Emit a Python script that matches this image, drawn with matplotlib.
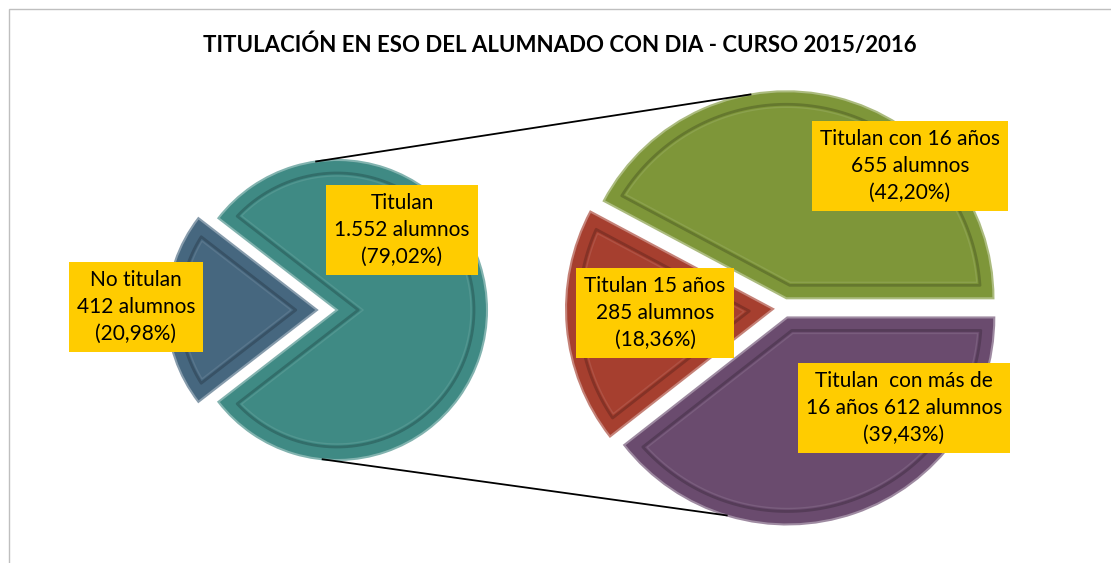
import numpy as np
import matplotlib
matplotlib.use("Agg")
import matplotlib.pyplot as plt
from matplotlib.patches import Rectangle, Polygon

W, H = 1111, 563

# left pie: all students
main_values = [412, 1552]
main_labels = ["No titulan\n412 alumnos\n(20,98%)",
               "Titulan\n1.552 alumnos\n(79,02%)"]
main_colors = ["#46677f", "#3f8a84"]

# right pie: breakdown of those who graduate
sub_values = [655, 285, 612]
sub_labels = ["Titulan con 16 años\n655 alumnos\n(42,20%)",
              "Titulan 15 años\n285 alumnos\n(18,36%)",
              "Titulan  con más de\n16 años 612 alumnos\n(39,43%)"]
sub_colors = ["#7e9639", "#a63f2f", "#6a4b6e"]

title = "TITULACIÓN EN ESO DEL ALUMNADO CON DIA - CURSO 2015/2016"

plt.rcParams['font.family'] = ['Lato', 'DejaVu Sans']


def shade(c, f):
    rgb = np.array(matplotlib.colors.to_rgb(c))
    if f < 1:
        return tuple(rgb * f)
    return tuple(rgb + (1 - rgb) * (f - 1))


def bevel(ax, w, inset, color, lw=2):
    # inner ridge line, parallel to the wedge outline
    cx, cy = w.center
    t1, t2 = np.radians(w.theta1), np.radians(w.theta2)
    half = (t2 - t1) / 2
    mid = t1 + half
    d = inset / np.sin(half)
    apex = (cx + d * np.cos(mid), cy + d * np.sin(mid))
    rho = w.r - inset
    da = np.arcsin(inset / rho)
    th = np.linspace(t1 + da, t2 - da, 120)
    pts = [apex] + list(zip(cx + rho * np.cos(th), cy + rho * np.sin(th)))
    ax.add_patch(Polygon(pts, closed=True, fill=False, edgecolor=color, lw=lw,
                         joinstyle='round', zorder=3))


fig = plt.figure(figsize=(W / 100, H / 100), dpi=100)
ax = fig.add_axes([0, 0, 1, 1])

ax.add_patch(Rectangle((8.5, -20), W, H - 8.5 + 20, fill=False,
                       edgecolor="#bfbfbf", lw=1))

# explode values are in data units (pixels here)
start = 180 - 360 * main_values[0] / sum(main_values) / 2
w_main, _ = ax.pie(main_values, colors=main_colors, explode=[20, 0],
                   startangle=start, radius=150, center=(337, H - 310),
                   frame=True, wedgeprops=dict(lw=1.5))
w_sub, _ = ax.pie(sub_values, colors=sub_colors, explode=[10, 11, 10],
                  startangle=0, radius=207, center=(784, H - 308),
                  frame=True, wedgeprops=dict(lw=1.5))
ax.set_xlim(0, W)
ax.set_ylim(0, H)
ax.set_aspect('equal')
ax.axis('off')

for w, c in zip(list(w_main) + list(w_sub), main_colors + sub_colors):
    w.set_edgecolor(shade(c, 1.35))
    bevel(ax, w, 13, shade(c, 0.8), lw=2)
    bevel(ax, w, 16, shade(c, 1.1), lw=1)


def edge_pt(w, ang):
    a = np.radians(ang)
    return w.center[0] + w.r * np.cos(a), w.center[1] + w.r * np.sin(a)


for (wa, aa), (wb, ab) in [((w_main[1], 98), (w_sub[0], 100)),
                           ((w_main[1], 264.5), (w_sub[2], 253))]:
    p, q = edge_pt(wa, aa), edge_pt(wb, ab)
    ax.plot([p[0], q[0]], [p[1], q[1]], color="black", lw=1.3, zorder=1)

box = dict(boxstyle="square,pad=0.38", fc="#ffcc00", ec="none")
label_pos = [(136, 307), (402, 230), (910, 166), (655, 313), (904, 408)]
for txt, (x, y) in zip(main_labels + sub_labels, label_pos):
    ax.text(x, H - y, txt, ha="center", va="center", fontsize=15,
            linespacing=1.42, bbox=box, zorder=5)

ax.text(560, H - 45, title, ha="center", va="center", fontsize=16,
        fontweight="bold")

fig.savefig("out.png", dpi=100)
